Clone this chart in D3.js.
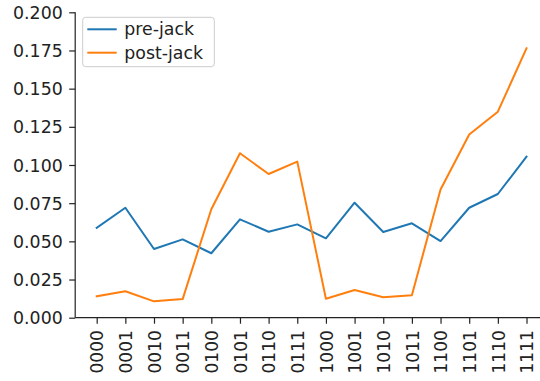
<!DOCTYPE html>
<html>
<head>
<meta charset="utf-8">
<script src="https://cdn.jsdelivr.net/npm/d3@7"></script>
<style>
html,body{margin:0;padding:0;background:#fff;}
svg{display:block;}
text{font-family:"DejaVu Sans",sans-serif;fill:#222;}
</style>
</head>
<body>
<svg id="chart" width="540" height="381"></svg>
<script>
const categories = ["0000","0001","0010","0011","0100","0101","0110","0111","1000","1001","1010","1011","1100","1101","1110","1111"];
const preJack  = [0.0589,0.0720,0.0450,0.0513,0.0422,0.0644,0.0563,0.0611,0.0520,0.0753,0.0561,0.0618,0.0502,0.0720,0.0810,0.1054];
const postJack = [0.0140,0.0173,0.0107,0.0122,0.0710,0.1077,0.0941,0.1022,0.0124,0.0181,0.0134,0.0147,0.0840,0.1200,0.1349,0.1764];
const yTicks = [0,0.025,0.05,0.075,0.1,0.125,0.15,0.175,0.2];
const seriesNames = ["pre-jack","post-jack"];
const colors = ["#1f77b4","#ff7f0e"];

(function(){
const svg = d3.select("#chart");
const mLeft = 75.2, mRight = 548, mTop = 12.3, mBottom = 317.7;
const x = d3.scaleLinear().domain([-0.75, categories.length - 1 + 0.75]).range([mLeft, mRight]);
const y = d3.scaleLinear().domain([0, 0.2]).range([mBottom, mTop]);
const FS = 17, SX = 1.02;

// axes
const yAxis = d3.axisLeft(y).tickValues(yTicks).tickFormat(d3.format(".3f")).tickSize(6).tickPadding(6);
const gy = svg.append("g").attr("transform", `translate(${mLeft},0)`).call(yAxis);
const xAxis = d3.axisBottom(x).tickValues(d3.range(categories.length)).tickFormat(i => categories[i]).tickSize(6).tickPadding(6);
const gx = svg.append("g").attr("transform", `translate(0,${mBottom})`).call(xAxis);

[gy, gx].forEach(g => {
  g.select(".domain").attr("stroke", "#222").attr("stroke-width", 1.2);
  g.selectAll(".tick line").attr("stroke", "#222").attr("stroke-width", 1.2);
  g.selectAll(".tick text").style("font-family", "DejaVu Sans").style("font-size", FS + "px").attr("fill", "#222");
});
gy.select(".domain").attr("d", `M0,${mBottom}V${mTop}`);
gx.select(".domain").attr("d", `M${mLeft},0H${mRight}`);
gy.selectAll(".tick text").each(function() {
  const t = d3.select(this);
  const xx = +t.attr("x");
  t.attr("x", null).attr("dy", "0.36em").attr("transform", `translate(${xx - 0.5},0) scale(${SX},1)`);
});
gx.selectAll(".tick text")
  .attr("y", null).attr("dy", "0.36em")
  .attr("text-anchor", "end")
  .attr("transform", `translate(0,12.5) rotate(-90) scale(1,${SX})`);

// lines
const line = d3.line().x((d, i) => x(i)).y(d => y(d));
[preJack, postJack].forEach((s, k) => {
  svg.append("path").datum(s).attr("d", line).attr("fill", "none")
    .attr("stroke", colors[k]).attr("stroke-width", 2).attr("stroke-linejoin", "round").attr("stroke-linecap", "square");
});

// legend
const lg = svg.append("g");
lg.append("rect").attr("x", 82.7).attr("y", 17.3).attr("width", 131.6).attr("height", 49.4)
  .attr("rx", 3).attr("fill", "#fff").attr("fill-opacity", 0.8).attr("stroke", "#ccc").attr("stroke-width", 1);
seriesNames.forEach((n, k) => {
  const yy = 29.3 + k * 23.4;
  lg.append("line").attr("x1", 87.3).attr("x2", 116.7).attr("y1", yy).attr("y2", yy)
    .attr("stroke", colors[k]).attr("stroke-width", 2);
  lg.append("text").attr("transform", `translate(124.3,${yy}) scale(${SX},1)`).attr("dy", "0.36em")
    .style("font-size", FS + "px").text(n);
});
})();
</script>
</body>
</html>
